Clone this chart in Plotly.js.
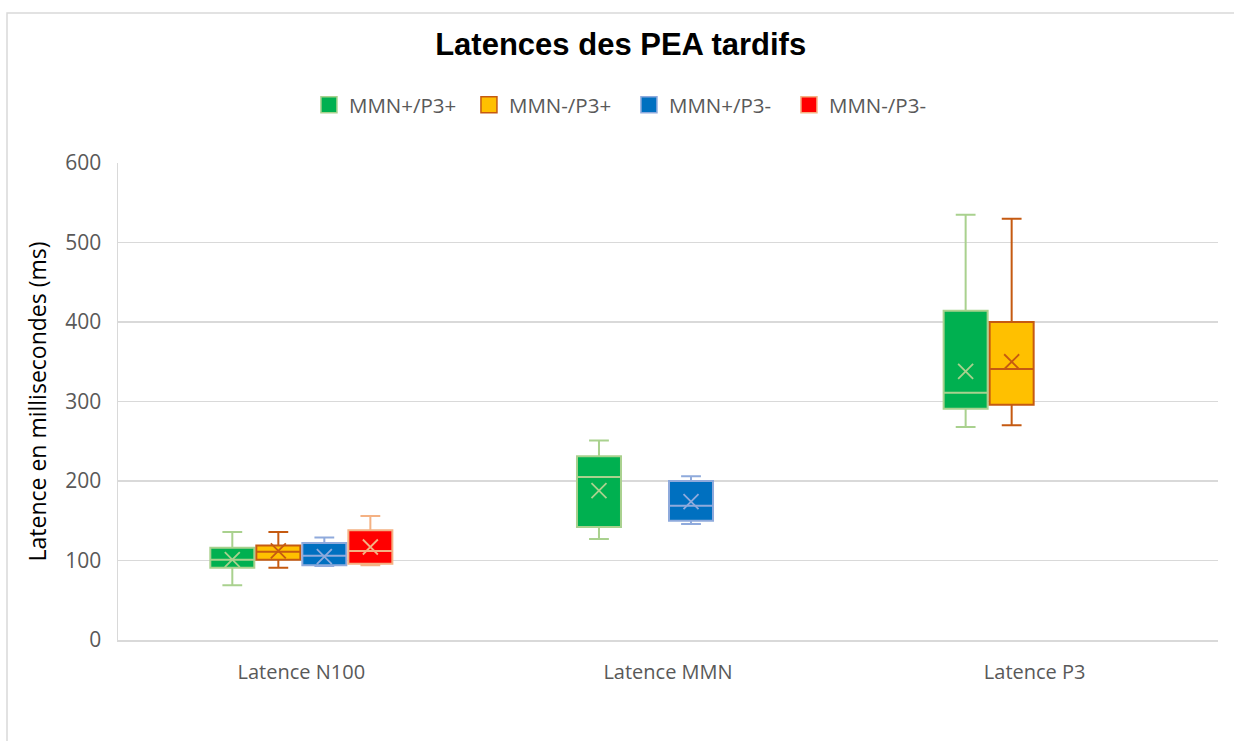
<!DOCTYPE html>
<html>
<head>
<meta charset="utf-8">
<script src="https://cdn.plot.ly/plotly-3.0.1.min.js"></script>
<style>html,body{margin:0;padding:0;background:#fff;}#chart{width:1234px;height:741px;}</style>
</head>
<body>
<div id="chart"></div>
<script>
// ---- Data ----
const categories = ['Latence N100', 'Latence MMN', 'Latence P3'];
const seriesNames = ['MMN+/P3+', 'MMN-/P3+', 'MMN+/P3-', 'MMN-/P3-'];

// each array: values per category (N100, MMN, P3); null = no box
const s1_min    = [69, 127, 268];
const s1_q1     = [91, 142, 291];
const s1_median = [101, 205, 311];
const s1_q3     = [116, 231, 414];
const s1_max    = [136, 251, 535];
const s1_mean   = [101, 188, 338];

const s2_min    = [91, null, 270];
const s2_q1     = [101, null, 296];
const s2_median = [111, null, 341];
const s2_q3     = [119, null, 400];
const s2_max    = [136, null, 530];
const s2_mean   = [112, null, 350];

const s3_min    = [93, 146, null];
const s3_q1     = [94, 150, null];
const s3_median = [106, 169, null];
const s3_q3     = [122, 200, null];
const s3_max    = [129, 206, null];
const s3_mean   = [105, 174, null];

const s4_min    = [94, null, null];
const s4_q1     = [96, null, null];
const s4_median = [112, null, null];
const s4_q3     = [138, null, null];
const s4_max    = [156, null, null];
const s4_mean   = [117, null, null];

const yTicks = [0, 100, 200, 300, 400, 500, 600];

// ---- Styles ----
const fills = ['#00b050', '#ffc000', '#0070c0', '#ff0000'];
const lines = ['#a9d18e', '#c55a11', '#8faadc', '#f4b183'];

const stats = [
  [s1_min, s1_q1, s1_median, s1_q3, s1_max, s1_mean],
  [s2_min, s2_q1, s2_median, s2_q3, s2_max, s2_mean],
  [s3_min, s3_q1, s3_median, s3_q3, s3_max, s3_mean],
  [s4_min, s4_q1, s4_median, s4_q3, s4_max, s4_mean]
];

const slot = 0.1255;
const boxW = 0.12;
const traces = [];
stats.forEach((st, s) => {
  const idx = categories.map((c, i) => i).filter(i => st[2][i] !== null);
  const xs = idx.map(i => i + (s - 1.5) * slot);
  traces.push({
    type: 'box',
    name: seriesNames[s],
    x: xs,
    lowerfence: idx.map(i => st[0][i]),
    q1: idx.map(i => st[1][i]),
    median: idx.map(i => st[2][i]),
    q3: idx.map(i => st[3][i]),
    upperfence: idx.map(i => st[4][i]),
    width: boxW,
    whiskerwidth: 0.45,
    fillcolor: fills[s],
    line: {color: lines[s], width: 2},
    showlegend: false,
    hoverinfo: 'skip'
  });
  traces.push({
    type: 'scatter',
    mode: 'markers',
    x: xs,
    y: idx.map(i => st[5][i]),
    marker: {symbol: 'x-thin-open', size: 15, color: lines[s], line: {color: lines[s], width: 1.8}},
    showlegend: false,
    hoverinfo: 'skip'
  });
});
// legend entries
seriesNames.forEach((n, s) => {
  traces.push({
    type: 'scatter', mode: 'markers', name: n,
    x: [null], y: [null],
    marker: {symbol: 'square', size: 20, color: fills[s], line: {color: lines[s], width: 1.5}},
    showlegend: true
  });
});

const layout = {
  width: 1234, height: 741,
  margin: {l: 118, r: 16, t: 163, b: 101},
  paper_bgcolor: '#ffffff',
  plot_bgcolor: '#ffffff',
  title: {
    text: '<b>Latences des PEA tardifs</b>',
    font: {family: 'Liberation Sans, Arial, sans-serif', size: 31, color: '#000000'},
    x: 0.503, xref: 'container', xanchor: 'center',
    y: 0.94, yref: 'container', yanchor: 'middle'
  },
  showlegend: true,
  legend: {
    orientation: 'h',
    x: 0.4645, xanchor: 'center',
    y: 1.1216, yanchor: 'middle',
    entrywidth: 115, entrywidthmode: 'pixels',
    font: {family: 'Open Sans, sans-serif', size: 20.5, color: '#595959'},
    bgcolor: 'rgba(0,0,0,0)'
  },
  xaxis: {
    type: 'linear',
    range: [-0.5, 2.5],
    tickmode: 'array',
    tickvals: categories.map((c, i) => i),
    ticktext: categories,
    showgrid: false,
    zeroline: false,
    showline: true, linecolor: '#d9d9d9', linewidth: 1.5,
    ticks: '',
    ticklabelstandoff: 13,
    tickfont: {family: 'Open Sans, sans-serif', size: 20, color: '#595959'},
    fixedrange: true
  },
  yaxis: {
    range: [0, 600],
    tickmode: 'array',
    tickvals: yTicks,
    ticktext: yTicks.map(String),
    showgrid: true, gridcolor: '#d9d9d9', gridwidth: 1.5,
    zeroline: false,
    showline: true, linecolor: '#d9d9d9', linewidth: 1.5,
    ticks: '',
    ticklabelstandoff: 11,
    tickfont: {family: 'Open Sans, sans-serif', size: 21, color: '#595959'},
    title: {
      text: 'Latence en millisecondes (ms)',
      font: {family: 'Open Sans, sans-serif', size: 23, color: '#000000'},
      standoff: 12
    },
    fixedrange: true
  },
  shapes: [{
    type: 'rect', xref: 'paper', yref: 'paper',
    x0: -0.1009, x1: 1.03, y0: -0.25, y1: 1.3145,
    line: {color: '#d9d9d9', width: 1.5},
    fillcolor: 'rgba(0,0,0,0)',
    layer: 'below'
  }]
};

Plotly.newPlot('chart', traces, layout, {displayModeBar: false, staticPlot: true});
</script>
</body>
</html>
